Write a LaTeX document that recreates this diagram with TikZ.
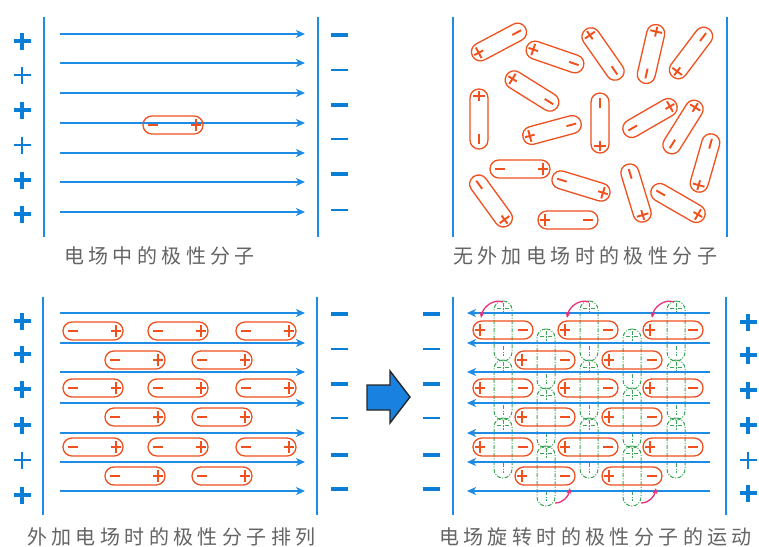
\documentclass[tikz,border=0pt]{standalone}
\usepackage{fontspec}
\usetikzlibrary{arrows.meta}
\newfontfamily\cjkfont[LetterSpace=22]{Noto Sans CJK SC}
\definecolor{fieldblue}{RGB}{30,140,228}
\definecolor{chargeblue}{RGB}{10,125,215}
\definecolor{molred}{RGB}{240,80,30}
\definecolor{ghostgreen}{RGB}{60,165,85}
\definecolor{turnpink}{RGB}{232,50,120}
\definecolor{captiongray}{RGB}{100,100,100}
\definecolor{blockblue}{RGB}{25,130,225}

\tikzset{
  plate/.style={draw=fieldblue, line width=1.6pt},
  fieldline/.style={draw=fieldblue, line width=1.3pt, -{Stealth[length=9pt,width=8pt,inset=2.5pt]}},
  molbody/.style={draw=molred, line width=1.3pt, rounded corners=8.9pt},
  molsign/.style={draw=molred, line width=1.9pt},
  ghost/.style={draw=ghostgreen, line width=1pt, dash pattern=on 4pt off 1.5pt on 1pt off 1.5pt},
  boldcharge/.style={draw=chargeblue, line width=3.2pt},
  thincharge/.style={draw=chargeblue, line width=1.8pt},
  caption/.style={font=\cjkfont\fontsize{20}{24}\selectfont, text=captiongray, anchor=west, inner sep=0pt},
  turn/.style={draw=turnpink, line width=1.3pt, -{Stealth[length=6pt,width=5pt]}},
  blockarrow/.style={draw=black!85, line width=1.4pt, fill=blockblue, line join=miter},
}

% a polar molecule: capsule centred at (#2,#3), pointing from its + end to its - end at angle #4
\newcommand\mol[4][]{%
  \begin{scope}[shift={(#2,#3)},rotate=#4]
    \draw[molbody,#1] (-30,-9) rectangle (30,9);
    \draw[molsign,#1] (-23,-6) -- (-23,6) (-28,0) -- (-18,0) (15,0) -- (25,0);
  \end{scope}}
\newcommand\pluscharge[3]{\draw[#3] (#1,#2) ++(-8.5,0) -- ++(17,0) ++(-8.5,-8.5) -- ++(0,17);}
\newcommand\minuscharge[3]{\draw[#3] (#1,#2) ++(-8.5,0) -- ++(17,0);}

\begin{document}
\begin{tikzpicture}[x=1pt,y=-1pt]
\useasboundingbox (0,0) rectangle (759,546);
\fill[white] (0,0) rectangle (759,546);

% ---------- static field ----------
\draw[plate] (44,17) -- (44,237);
\draw[plate] (318,17) -- (318,237);
\foreach \y in {34,63,93,123,153,182,212} {\draw[fieldline] (60,\y) -- (305,\y);}
\foreach \y/\s in {41/boldcharge,75/thincharge,110/boldcharge,145/thincharge,180/boldcharge,214/boldcharge}
  {\pluscharge{22}{\y}{\s}}
\foreach \y/\s in {35/boldcharge,70/thincharge,105/boldcharge,139/thincharge,174/boldcharge,210/thincharge}
  {\minuscharge{339.5}{\y}{\s}}
\mol{173}{125}{180}
\node[caption] (cap1) at (64,256) {电场中的极性分子};

% ---------- no field ----------
\draw[plate] (453,17) -- (453,237);
\draw[plate] (727,17) -- (727,237);
\foreach \cx/\cy/\a in {499/42/28, 555/57/-19, 603/54/-55, 651/54/-103, 691/53/53,
    532/91/-32, 479/119/-90, 552/130/15, 600/123/90, 650/118/210, 683/127/238,
    705/163/74, 520/169/180, 491/201/126, 581/186/163, 568/220/0, 636/193/107, 678/203/150}
  {\mol{\cx}{\cy}{\a}}
\node[caption] (cap2) at (453,256) {无外加电场时的极性分子};

% ---------- aligned in field ----------
\draw[plate] (43,297) -- (43,515);
\draw[plate] (317,297) -- (317,515);
\foreach \y in {313,343,372,403,433,462,491} {\draw[fieldline] (60,\y) -- (305,\y);}
\foreach \y/\s in {321/boldcharge,354/boldcharge,389/boldcharge,425/boldcharge,460/thincharge,495/boldcharge}
  {\pluscharge{22}{\y}{\s}}
\foreach \y/\s in {314/boldcharge,349/thincharge,384/boldcharge,418/thincharge,455/boldcharge,489/boldcharge}
  {\minuscharge{339.5}{\y}{\s}}
\foreach \y in {331,388,447} {\foreach \x in {93,178,266} {\mol{\x}{\y}{180}}}
\foreach \y in {360,417,476} {\foreach \x in {135,222} {\mol{\x}{\y}{180}}}
\node[caption] (cap3) at (27,537) {外加电场时的极性分子排列};

% ---------- block arrow ----------
\draw[blockarrow] (367,385) -- (390,385) -- (390,371) -- (410,397) -- (390,423) -- (390,410) -- (367,410) -- cycle;

% ---------- reversing field ----------
\draw[plate] (453,297) -- (453,515);
\draw[plate] (726,297) -- (726,515);
\foreach \y/\s in {314/boldcharge,349/thincharge,384/boldcharge,418/thincharge,455/boldcharge,489/boldcharge}
  {\minuscharge{431}{\y}{\s}}
\foreach \y/\s in {322/boldcharge,355/boldcharge,390/boldcharge,425/boldcharge,460/thincharge,493/boldcharge}
  {\pluscharge{748}{\y}{\s}}
% molecules caught mid-turn
\foreach \x in {503,589,676} {\foreach \y in {331,390,448} {\mol[ghost]{\x}{\y}{-90}}}
\foreach \x in {546,632} {\foreach \y in {359,418,476} {\mol[ghost]{\x}{\y}{-90}}}
\foreach \y in {313,343,372,403,433,462,491} {\draw[fieldline] (710,\y) -- (467,\y);}
\foreach \y in {330,388,447} {\foreach \x in {503,588,673} {\mol{\x}{\y}{0}}}
\foreach \y in {360,417,476} {\foreach \x in {545,632} {\mol{\x}{\y}{0}}}
\foreach \x in {503,589,674} {\draw[turn] (\x,302) to[out=160,in=80] ({\x-22},318);}
\foreach \x in {555,641} {\draw[turn] (\x,503) to[out=0,in=-100] ({\x+15},488);}
\node[caption] (cap4) at (439,537) {电场旋转时的极性分子的运动};
\end{tikzpicture}
\end{document}
